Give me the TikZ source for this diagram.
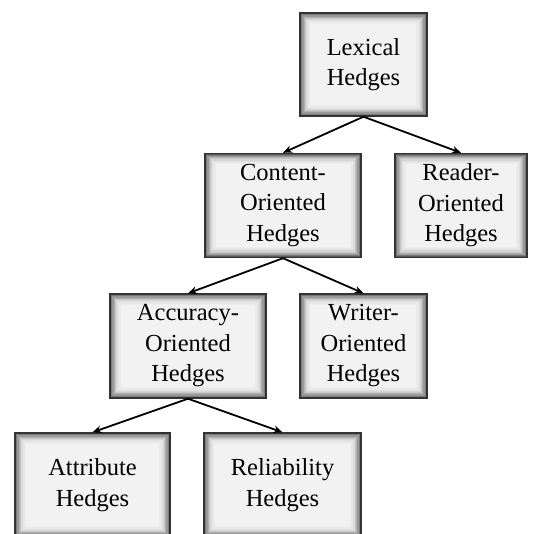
\documentclass[tikz,border=0pt]{standalone}
\usepackage{fontspec}
\setmainfont{Liberation Serif}
\usetikzlibrary{arrows.meta}
\begin{document}
\begin{tikzpicture}[x=1pt,y=1pt,
  hedgebox/.style={draw=black!80, line width=1.4pt, fill=black!5,
    inner sep=0pt, align=center, font=\fontsize{24.5}{30.5}\selectfont,
    minimum height=104pt,
    path picture={
      \foreach \i/\c in {0/66,1/52,2/40,3/30,4/22,5/16,6/12,7/9,8/7}{
        \draw[line width=1.3pt, black!\c]
          ([shift={(\i*1.2+0.6,\i*1.2+0.6)}]path picture bounding box.south west)
          rectangle
          ([shift={(-\i*1.2-0.6,-\i*1.2-0.6)}]path picture bounding box.north east);
      }}},
  link/.style={line width=1.8pt, -{Stealth[length=9pt,width=7.5pt]}}
]
\useasboundingbox (0,0) rectangle (540,-533);

\node[hedgebox, minimum width=127pt, minimum height=103pt] (lex) at (363.5,-64.5) {Lexical\\Hedges};
\node[hedgebox, minimum width=156pt] (con) at (283,-205.5) {Content-\\Oriented\\Hedges};
\node[hedgebox, minimum width=132pt] (rea) at (461,-205.5) {Reader-\\Oriented\\Hedges};
\node[hedgebox, minimum width=156pt] (acc) at (188,-346) {Accuracy-\\Oriented\\Hedges};
\node[hedgebox, minimum width=127pt] (wri) at (363.5,-346) {Writer-\\Oriented\\Hedges};
\node[hedgebox, minimum width=155pt] (att) at (92.5,-485) {Attribute\\Hedges};
\node[hedgebox, minimum width=157pt] (rel) at (282.5,-485) {Reliability\\Hedges};

\draw[link] (lex.south) -- (con.north);
\draw[link] (lex.south) -- (rea.north);
\draw[link] (con.south) -- (acc.north);
\draw[link] (con.south) -- (wri.north);
\draw[link] (acc.south) -- (att.north);
\draw[link] (acc.south) -- (rel.north);
\end{tikzpicture}
\end{document}
